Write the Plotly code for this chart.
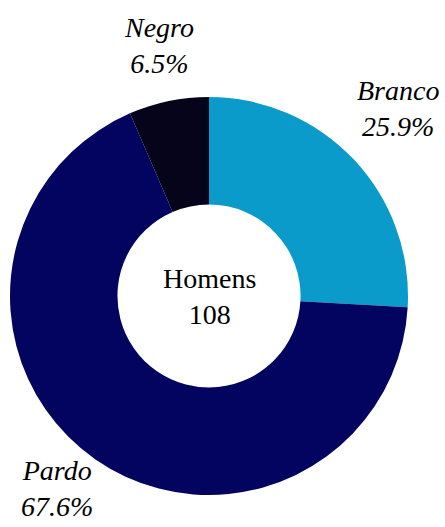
import plotly.graph_objects as go

categories = ["Branco", "Pardo", "Negro"]
percentages = [25.9, 67.6, 6.5]
colors = ["#0A9BCB", "#03045F", "#06041A"]
center_title = "Homens"
center_total = 108

W, H = 445, 527
cx, cy, r = 209, 296, 199

fig = go.Figure(go.Pie(
    labels=categories,
    values=percentages,
    hole=0.46,
    sort=False,
    direction="clockwise",
    rotation=0,
    marker=dict(colors=colors, line=dict(width=0)),
    textinfo="none",
    hoverinfo="label+percent",
    showlegend=False,
    domain=dict(x=[(cx - r) / W, (cx + r) / W], y=[1 - (cy + r) / H, 1 - (cy - r) / H]),
))

label_pos = {"Negro": (159, 45), "Branco": (398, 109), "Pardo": (57, 488)}
font_lbl = dict(family="Liberation Serif", size=28, color="#000000")
annotations = []
for c, p in zip(categories, percentages):
    x, y = label_pos[c]
    annotations.append(dict(
        x=x / W, y=1 - y / H, xref="paper", yref="paper",
        text=f"<i>{c}</i><br><i>{p:.1f}%</i>", showarrow=False,
        font=font_lbl, xanchor="center", yanchor="middle", align="center",
    ))
annotations.append(dict(
    x=cx / W, y=1 - 296 / H, xref="paper", yref="paper",
    text=f"{center_title}<br>{center_total}", showarrow=False,
    font=font_lbl, xanchor="center", yanchor="middle", align="center",
))

fig.update_layout(
    width=W, height=H,
    margin=dict(l=0, r=0, t=0, b=0),
    paper_bgcolor="white", plot_bgcolor="white",
    annotations=annotations,
)
fig.write_html("out.html")
